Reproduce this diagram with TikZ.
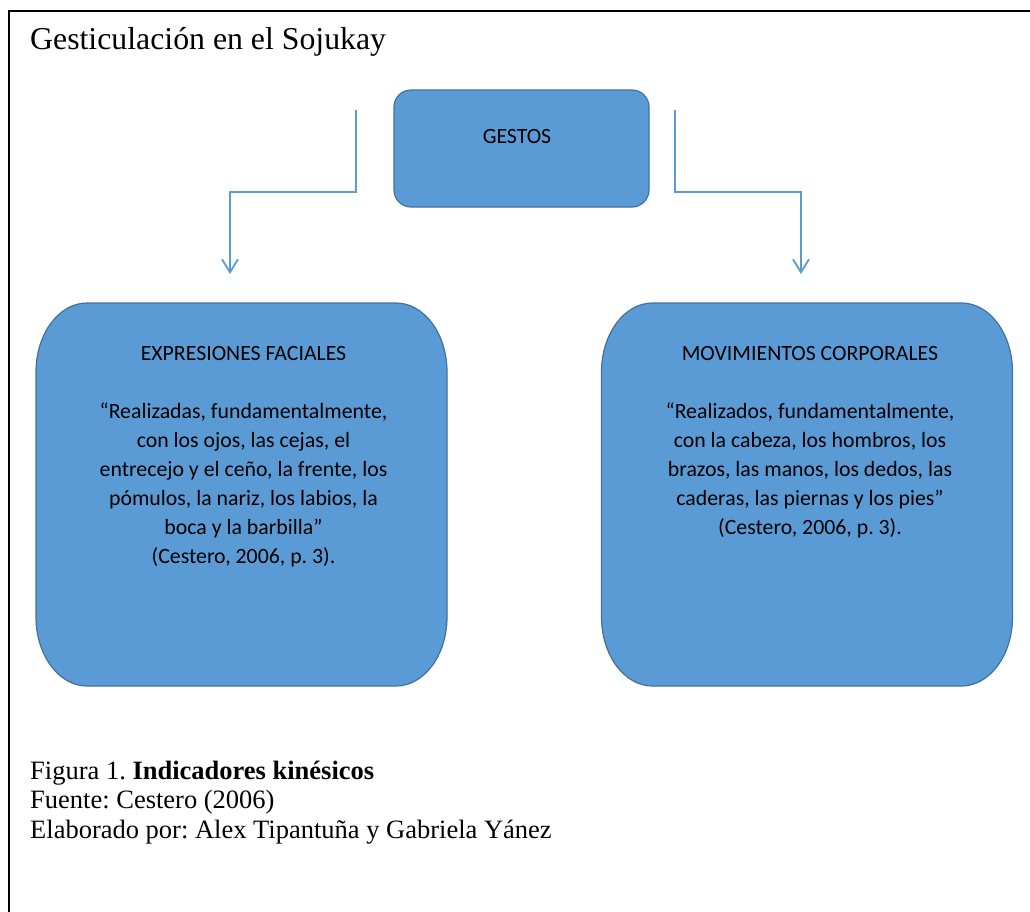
\documentclass[tikz,border=0pt]{standalone}
\usepackage{fontspec}
\setmainfont{Liberation Serif}
\newfontfamily\calibrifont{Carlito}
\usetikzlibrary{arrows.meta,calc}
\definecolor{boxblue}{HTML}{5B9BD5}
\definecolor{boxedge}{HTML}{41719C}
\frenchspacing
\tikzset{
  gbox/.style={draw=boxedge, line width=1.2pt, fill=boxblue, rounded corners=17pt, inner sep=0pt},
  bigbox/.style={draw=none, inner sep=0pt, outer sep=0pt, minimum width=411pt, minimum height=383pt},
  bigshape/.style={draw=boxedge, line width=1.2pt, fill=boxblue},
  boxtext/.style={font=\calibrifont\fontsize{21.8}{29}\selectfont, align=center, inner sep=0pt, text=black},
  serif/.style={font=\fontsize{26.5}{29.5}\selectfont, align=left, inner sep=0pt, text=black},
  conn/.style={draw=boxblue, line width=1.8pt, -{Straight Barb[length=13pt, width=16pt, line width=1.8pt]}},
}
\newcommand\ovalbox[1]{%
  \path[bigshape] ($(#1.north west)+(51,0)$) -- ($(#1.north east)+(-51,0)$)
    .. controls +(28.2,0) and +(0,-38.1) .. ($(#1.north east)+(0,69)$)
    -- ($(#1.south east)+(0,-69)$)
    .. controls +(0,38.1) and +(28.2,0) .. ($(#1.south east)+(-51,0)$)
    -- ($(#1.south west)+(51,0)$)
    .. controls +(-28.2,0) and +(0,38.1) .. ($(#1.south west)+(0,-69)$)
    -- ($(#1.north west)+(0,69)$)
    .. controls +(0,-38.1) and +(-28.2,0) .. ($(#1.north west)+(51,0)$) -- cycle;}
\begin{document}
\begin{tikzpicture}[x=1pt, y=-1pt]
\useasboundingbox (0,0) rectangle (1030,911);
\fill[white] (0,0) rectangle (1030,911);
% frame
\draw[line width=2pt] (1035,10.5) -- (9,10.5) -- (9,915);
% title
\node[anchor=base west, inner sep=0pt, font=\fontsize{31.8}{36}\selectfont] (title) at (30,49) {Gesticulación en el Sojukay};
% GESTOS box
\node[gbox, minimum width=255pt, minimum height=117pt] (gestos) at (521.5,148.5) {};
\node[boxtext, anchor=base] (gestosT) at (517,143) {GESTOS};
% connectors
\coordinate (ls) at (356,110);
\coordinate (lm) at (230,192);
\coordinate (le) at (230,274);
\coordinate (rs) at (675,110);
\coordinate (rm) at (801,192);
\coordinate (re) at (801,274);
\draw[conn] (ls) |- (lm) -- (le);
\draw[conn] (rs) |- (rm) -- (re);
% big boxes
\node[bigbox] (fac) at (241.5,494.5) {};
\node[bigbox] (cor) at (807,494.5) {};
\ovalbox{fac}
\ovalbox{cor}
\node[boxtext, anchor=base] (facT) at (243.5,563) {EXPRESIONES FACIALES\\[29pt]
“Realizadas, fundamentalmente,\\
con los ojos, las cejas, el\\
entrecejo y el ceño, la frente, los\\
pómulos, la nariz, los labios, la\\
boca y la barbilla”\\
(Cestero, 2006, p. 3).};
\node[boxtext, anchor=base] (corT) at (810,534) {MOVIMIENTOS CORPORALES\\[29pt]
“Realizados, fundamentalmente,\\
con la cabeza, los hombros, los\\
brazos, las manos, los dedos, las\\
caderas, las piernas y los pies”\\
(Cestero, 2006, p. 3).};
% caption
\node[serif, anchor=base west] (cap) at (30,838) {Figura 1. \textbf{Indicadores kinésicos}\\
Fuente: Cestero (2006)\\
Elaborado por: Alex Tipantuña y Gabriela Yánez};
\end{tikzpicture}
\end{document}
